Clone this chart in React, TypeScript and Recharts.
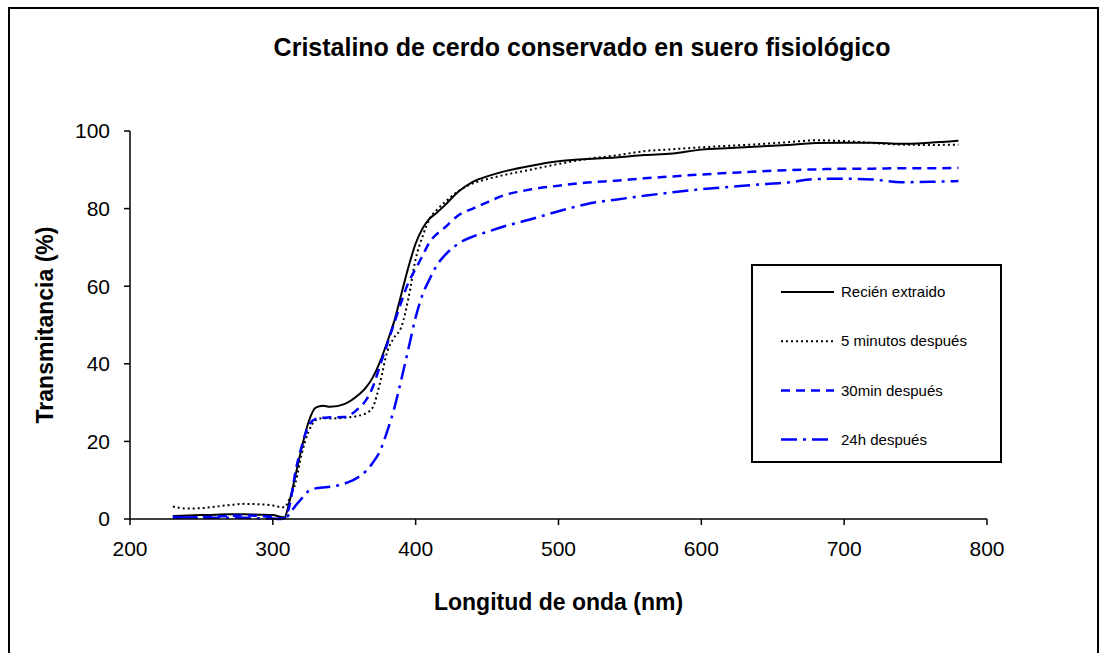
import React from 'react';
import { LineChart, Line, XAxis, YAxis, Legend } from 'recharts';

// ---------------------------------------------------------------------------
// Data
// ---------------------------------------------------------------------------
const wavelengths = [
  230, 240, 250, 260, 270, 280, 290, 300, 305, 308, 312, 316, 320, 325, 330, 335, 340, 350,
  360, 365, 370, 375, 380, 385, 390, 395, 400, 405, 410, 415, 420, 430, 440, 450, 460, 480,
  500, 520, 540, 560, 580, 600, 620, 640, 660, 680, 700, 720, 740, 760, 780,
];

const recienExtraido = [
  0.8, 0.9, 1.0, 1.1, 1.2, 1.2, 1.1, 1.0, 0.6, 0.4, 5, 11.5, 18, 25, 28.7, 29.2, 28.9, 29.6,
  32, 33.8, 36.5, 40.5, 45.5, 51, 58, 65, 71, 75, 77.5, 79, 80.7, 84.4, 86.9, 88.3, 89.4, 91,
  92.2, 92.8, 93.2, 93.8, 94.2, 95.2, 95.6, 96, 96.4, 96.9, 97.0, 97.0, 96.7, 97.0, 97.5,
];

const cincoMinutos = [
  3.2, 2.7, 2.8, 3.2, 3.6, 3.9, 3.8, 3.5, 3.1, 3.0, 5.5, 9.5, 16.5, 22.5, 25.5, 26, 25.9, 26.1,
  26.6, 27.2, 28.8, 35, 43, 46.8, 49.5, 57, 67, 73, 77.5, 79.7, 81.5, 84.5, 86.5, 87.6, 88.5, 90,
  91.5, 92.8, 93.7, 94.8, 95.3, 95.8, 96.2, 96.6, 97.1, 97.6, 97.4, 96.9, 96.5, 96.4, 96.5,
];

const treintaMin = [
  0.3, 0.4, 0.5, 0.6, 0.8, 0.9, 0.8, 0.5, 0.2, 0.1, 4, 12.5, 18.5, 24, 25.8, 26.1, 26.2, 26.3,
  28.5, 30.5, 34, 39.5, 45, 50.5, 56, 61, 64.5, 68, 71.5, 73.5, 75, 78.3, 80, 81.6, 83.2, 84.9,
  85.9, 86.7, 87.2, 87.8, 88.3, 88.8, 89.2, 89.6, 89.9, 90.1, 90.3, 90.3, 90.4, 90.4, 90.5,
];

const veinticuatroH = [
  0.5, 0.4, 0.3, 0.3, 0.3, 0.3, 0.2, 0.1, 0, 0, 1.5, 3.5, 5.2, 7.2, 7.9, 8.1, 8.3, 9.1,
  10.8, 12.3, 14.5, 17.5, 22.5, 28.5, 36, 44, 52, 58, 62, 65.5, 67.8, 71, 72.8, 74, 75.2, 77.2,
  79.3, 81.2, 82.3, 83.3, 84.2, 85, 85.6, 86.2, 86.7, 87.6, 87.7, 87.5, 86.8, 86.9, 87.1,
];

const xTicks = [200, 300, 400, 500, 600, 700, 800];
const yTicks = [0, 20, 40, 60, 80, 100];

const series = [
  { key: 'fresh', name: 'Recién extraido', color: '#000000', width: 2, dash: undefined },
  { key: 'min5', name: '5 minutos después', color: '#000000', width: 2, dash: '2 3' },
  { key: 'min30', name: '30min después', color: '#0000FF', width: 2.5, dash: '9 6' },
  { key: 'h24', name: '24h después', color: '#0000FF', width: 2.5, dash: '16 6 3 6' },
];

const rows = wavelengths.map((wl, i) => ({
  wl,
  fresh: recienExtraido[i],
  min5: cincoMinutos[i],
  min30: treintaMin[i],
  h24: veinticuatroH[i],
}));

const FONT = '"Liberation Sans", Arial, sans-serif';

function LegendBox() {
  return (
    <svg width={251} height={199} style={{ display: 'block' }}>
      <rect x={1} y={1} width={249} height={197} fill="#fff" stroke="#000" strokeWidth={2} />
      {series.map((s, i) => {
        const y = 28 + i * 49.2;
        return (
          <g key={s.key}>
            <line x1={30} x2={83} y1={y} y2={y} stroke={s.color} strokeWidth={s.width} strokeDasharray={s.dash} />
            <text x={90} y={y} dy="0.35em" fontSize={15} fontFamily={FONT} fill="#000">
              {s.name}
            </text>
          </g>
        );
      })}
    </svg>
  );
}

export default function App() {
  return (
    <div style={{ position: 'fixed', left: 0, top: 0, width: 1105, height: 653, background: '#fff', fontFamily: FONT }}>
      <div
        style={{
          position: 'absolute',
          left: 8,
          top: 7,
          width: 1091,
          height: 660,
          border: '2px solid #000',
          boxSizing: 'border-box',
        }}
      />
      <div
        style={{
          position: 'absolute',
          left: 0,
          width: 1164,
          top: 33,
          textAlign: 'center',
          fontSize: 25,
          fontWeight: 'bold',
          color: '#000',
          lineHeight: '29px',
        }}
      >
        Cristalino de cerdo conservado en suero fisiológico
      </div>
      <LineChart
        width={1105}
        height={653}
        data={rows}
        margin={{ top: 131, right: 118, bottom: 0, left: 0 }}
        style={{ position: 'absolute', left: 0, top: 0 }}
      >
        <XAxis
          dataKey="wl"
          type="number"
          domain={[200, 800]}
          ticks={xTicks}
          height={134}
          tickSize={6}
          tickMargin={16}
          stroke="#000"
          strokeWidth={1.5}
          tick={{ fill: '#000', fontSize: 21, fontFamily: FONT }}
          label={{
            value: 'Longitud de onda (nm)',
            position: 'insideBottom',
            offset: 43,
            style: { fill: '#000', fontSize: 23, fontWeight: 'bold', fontFamily: FONT },
          }}
        />
        <YAxis
          type="number"
          domain={[0, 100]}
          ticks={yTicks}
          width={130}
          tickSize={6}
          tickMargin={14}
          stroke="#000"
          strokeWidth={1.5}
          tick={{ fill: '#000', fontSize: 21, fontFamily: FONT }}
          label={{
            value: 'Transmitancia (%)',
            angle: -90,
            position: 'insideLeft',
            offset: 45,
            style: { fill: '#000', fontSize: 23, fontWeight: 'bold', fontFamily: FONT, textAnchor: 'middle' },
          }}
        />
        <Legend
          layout="vertical"
          align="center"
          verticalAlign="middle"
          content={() => <LegendBox />}
          wrapperStyle={{ position: 'absolute', left: 751, top: 264, width: 251, height: 199 }}
        />
        {series.map((s) => (
          <Line
            key={s.key}
            dataKey={s.key}
            name={s.name}
            type="monotone"
            stroke={s.color}
            strokeWidth={s.width}
            strokeDasharray={s.dash}
            dot={false}
            activeDot={false}
            isAnimationActive={false}
          />
        ))}
      </LineChart>
    </div>
  );
}
